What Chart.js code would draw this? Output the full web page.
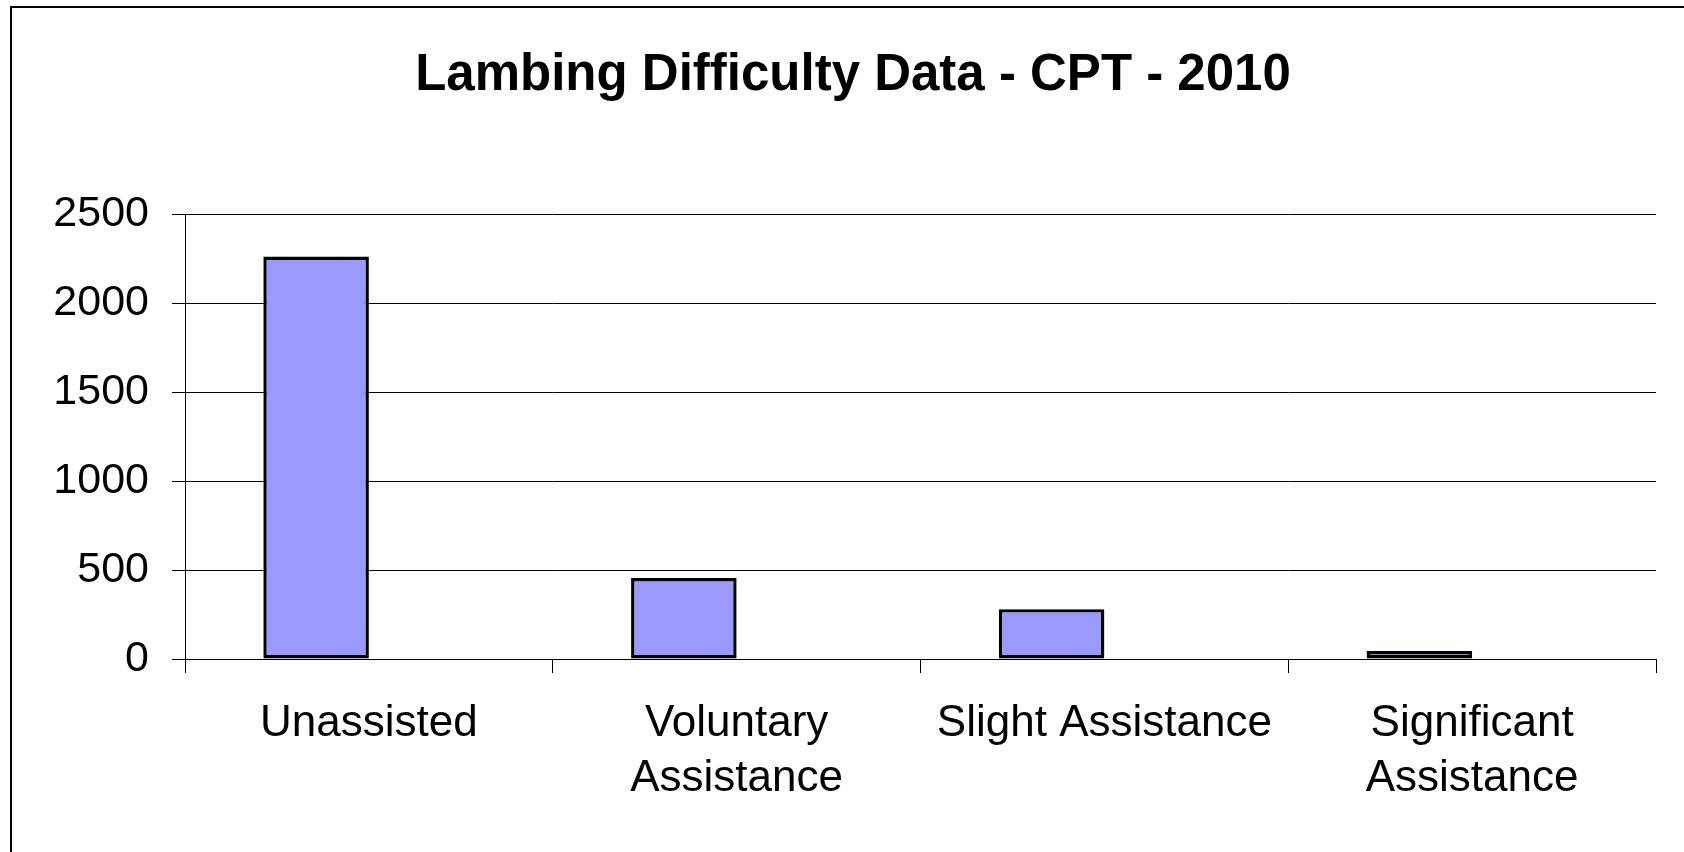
<!DOCTYPE html>
<html>
<head>
<meta charset="utf-8">
<script src="https://cdn.jsdelivr.net/npm/chart.js@4/dist/chart.umd.min.js"></script>
<style>
  html, body { margin: 0; padding: 0; background: #fff; overflow: hidden; }
  #wrap { position: relative; width: 1684px; height: 852px; }
  #frame { position: absolute; left: 10px; top: 6px; width: 1720px; height: 900px; border: 2px solid #000; box-sizing: border-box; pointer-events: none; }
  canvas { position: absolute; left: 0; top: 0; }
</style>
</head>
<body>
<div id="wrap">
  <canvas id="c" width="1684" height="852"></canvas>
  <div id="frame"></div>
</div>
<script>
const chartTitle = 'Lambing Difficulty Data - CPT - 2010';
const categories = [
  'Unassisted',
  ['Voluntary', 'Assistance'],
  'Slight Assistance',
  ['Significant', 'Assistance']
];
const lambCounts = [2262, 455, 280, 45];
const emptySeries = [null, null, null, null];
const yMin = 0, yMax = 2500, yStep = 500;

const FONT = "'Liberation Sans', Arial, sans-serif";

new Chart(document.getElementById('c'), {
  type: 'bar',
  data: {
    labels: categories,
    datasets: [
      {
        label: 'Lambs',
        data: lambCounts,
        backgroundColor: '#9999FF',
        borderColor: '#000000',
        borderWidth: 3.4,
        borderSkipped: false
      },
      {
        label: 'Empty',
        data: emptySeries,
        backgroundColor: '#9999FF',
        borderColor: '#000000',
        borderWidth: 0
      }
    ]
  },
  options: {
    responsive: false,
    animation: false,
    devicePixelRatio: 1,
    layout: { padding: { left: 50, right: 28, top: 0, bottom: 0 } },
    datasets: { bar: { categoryPercentage: 0.574, barPercentage: 1.0 } },
    plugins: {
      legend: { display: false },
      tooltip: { enabled: false },
      title: {
        display: true,
        text: chartTitle,
        color: '#000',
        font: { family: FONT, size: 51, weight: 'bold', lineHeight: 1.2 },
        padding: { top: 45, bottom: 108 }
      }
    },
    scales: {
      x: {
        grid: { display: true, drawOnChartArea: false, offset: true, color: '#000', lineWidth: 1, tickLength: 14, tickColor: '#000' },
        border: { display: true, color: '#000', width: 1 },
        ticks: { color: '#000', font: { family: FONT, size: 44, lineHeight: 1.26 }, padding: 23, maxRotation: 0, autoSkip: false },
        afterFit: (s) => { s.height = 852 - 659; }
      },
      y: {
        min: yMin, max: yMax,
        grid: { color: '#000', lineWidth: 1, tickLength: 13, tickColor: '#000' },
        border: { display: true, color: '#000', width: 1 },
        ticks: { stepSize: yStep, color: '#000', font: { family: FONT, size: 43 }, padding: 23,
                 callback: (v) => String(v) },
        afterFit: (s) => { s.width = 185 - 50; }
      }
    }
  }
});
</script>
</body>
</html>
